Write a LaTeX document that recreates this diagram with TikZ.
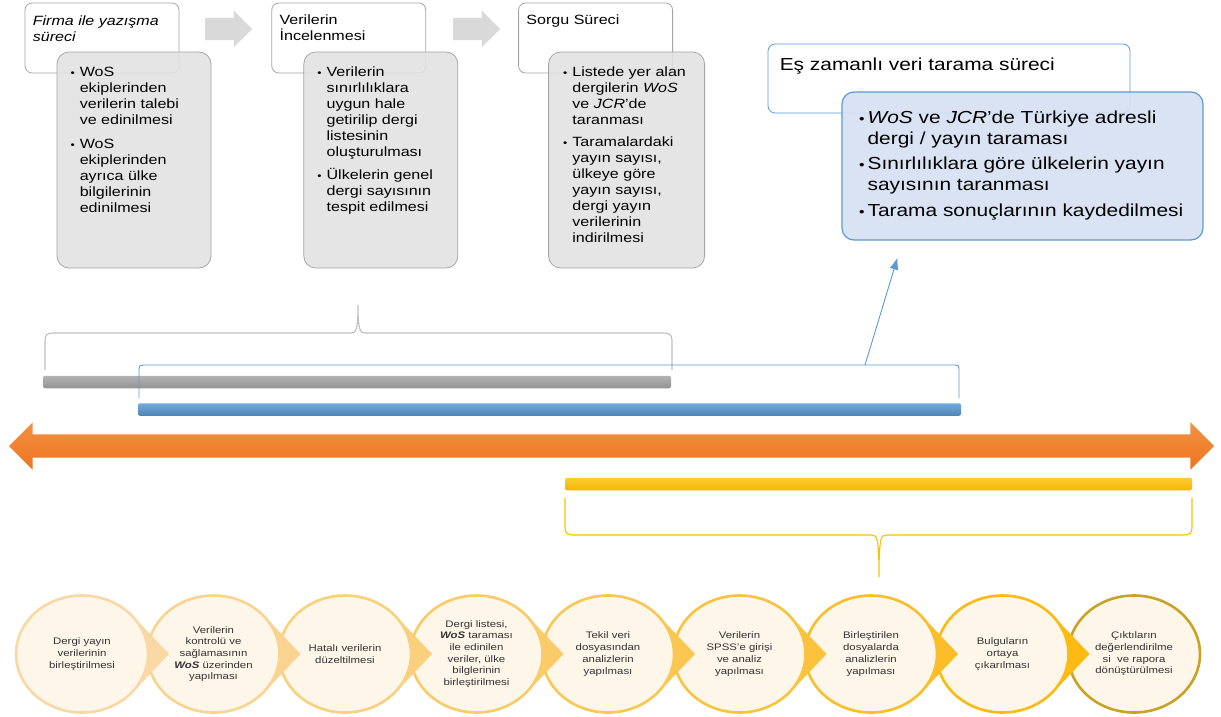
\documentclass[tikz,border=0pt]{standalone}
\usepackage{fontspec}
\setmainfont{Liberation Sans}[FakeStretch=1.2]
\usetikzlibrary{arrows.meta, shapes.geometric, shapes.arrows,
positioning}
\definecolor{framegrey}{HTML}{A6A6A6}
\definecolor{notegrey}{HTML}{E2E2E2}
\definecolor{chevgrey}{HTML}{D9D9D9}
\definecolor{bracegrey}{HTML}{BFBFBF}
\definecolor{scanblue}{HTML}{5B9BD5}
\definecolor{scanfill}{HTML}{D6E1F2}
\definecolor{timetop}{HTML}{F39143}
\definecolor{timebot}{HTML}{EE7420}
\definecolor{baryellow}{HTML}{FFC000}
\definecolor{ringlo}{HTML}{F9D8A6}
\definecolor{ringhi}{HTML}{FCBA12}
\definecolor{ringlast}{HTML}{C9A227}
\definecolor{ringfill}{HTML}{FEF7E9}
\newcommand{\blt}[1][5pt]{\llap{\scalebox{0.75}{\textbullet}\hspace{#1}}}
\tikzset{%
>={Latex[width=9pt,length=11pt]},
  % top row boxes
            titlebox/.style = {rectangle, draw=framegrey, fill=white, line width=0.8pt,
                            rounded corners=7pt, minimum width=154pt, minimum height=70pt},
            notebox/.style = {rectangle, draw=framegrey, fill=notegrey, fill opacity=0.88,
                            line width=0.8pt, rounded corners=12pt, minimum width=154pt,
                            minimum height=216pt},
            titletext/.style = {anchor=north west, inner sep=0pt, align=left,
                            font=\fontsize{13.4}{15.5}\selectfont},
            notetext/.style = {anchor=north west, inner sep=0pt, align=left,
                            font=\fontsize{13.4}{16}\selectfont},
            chevron/.style = {single arrow, fill=chevgrey, minimum height=47pt,
                            single arrow head extend=7pt, inner xsep=0pt, inner ysep=11pt},
  % timeline
            bar/.style = {rectangle, rounded corners=2pt, minimum height=12.5pt, inner sep=0pt},
            bracket/.style = {line width=1.1pt},
  % bottom row
            ring/.style = {ellipse, fill=ringfill, line width=2.6pt, minimum width=132pt,
                            minimum height=117pt, inner sep=0pt, align=center, text=black!80,
                            font=\fontsize{9.5}{11.7}\selectfont}
}
\begin{document}
\begin{tikzpicture}[x=1pt, y=-1pt]
\fill[white] (0,0) rectangle (1221,717);
\useasboundingbox (0,0) rectangle (1221,717);

% top row
\node[titlebox] (firmaT) at (102,38) {};
\node[titlebox, right=92pt of firmaT] (incT) {};
\node[titlebox, right=92pt of incT] (sorguT) {};
\node[notebox, anchor=north west] (firmaB) at ([xshift=32pt,yshift=-49pt]firmaT.north west) {};
\node[notebox, anchor=north west] (incB) at ([xshift=32pt,yshift=-49pt]incT.north west) {};
\node[notebox, anchor=north west, minimum width=156pt] (sorguB) at ([xshift=30pt,yshift=-49pt]sorguT.north west) {};
\node[chevron] (arr1) at (223,29) {};
\node[chevron] (arr2) at (471,29) {};

\node[titletext, font=\fontsize{13.4}{15.5}\selectfont\itshape] (firmaTx)
  at ([xshift=8pt,yshift=-13pt]firmaT.north west) {Firma ile yazışma\\süreci};
\node[titletext] (incTx) at ([xshift=8pt,yshift=-12pt]incT.north west) {Verilerin\\İncelenmesi};
\node[titletext] (sorguTx) at ([xshift=8pt,yshift=-12pt]sorguT.north west) {Sorgu Süreci};

\node[notetext] (firmaBx) at ([xshift=23pt,yshift=-15pt]firmaB.north west)
  {\blt WoS\\ ekiplerinden\\ verilerin talebi\\ ve edinilmesi\\[8pt]
   \blt WoS\\ ekiplerinden\\ ayrıca ülke\\ bilgilerinin\\ edinilmesi};
\node[notetext] (incBx) at ([xshift=23pt,yshift=-15pt]incB.north west)
  {\blt Verilerin\\ sınırlılıklara\\ uygun hale\\ getirilip dergi\\ listesinin\\ oluşturulması\\[7pt]
   \blt Ülkelerin genel\\ dergi sayısının\\ tespit edilmesi};
\node[notetext] (sorguBx) at ([xshift=24pt,yshift=-15pt]sorguB.north west)
  {\blt Listede yer alan\\ dergilerin \textit{WoS}\\ ve \textit{JCR}’de\\ taranması\\[6pt]
   \blt Taramalardaki\\ yayın sayısı,\\ ülkeye göre\\ yayın sayısı,\\ dergi yayın\\ verilerinin\\ indirilmesi};

% concurrent scanning
\node[titlebox, draw=scanblue, minimum width=362pt, minimum height=69pt] (scanT) at (949,78.5) {};
\node[notebox, draw=scanblue, fill=scanfill, fill opacity=0.92, minimum width=361pt,
  minimum height=148pt, line width=1.2pt] (scanB) at (1022.5,166) {};
\node[titletext, font=\fontsize{17.4}{20}\selectfont] (scanTx)
  at ([xshift=12pt,yshift=-14pt]scanT.north west) {Eş zamanlı veri tarama süreci};
\node[titletext, font=\fontsize{17.4}{21}\selectfont] (scanBx)
  at ([xshift=26pt,yshift=-19pt]scanB.north west)
  {\blt[3pt]\textit{WoS} ve \textit{JCR}’de Türkiye adresli\\ dergi / yayın taraması\\[4.5pt]
   \blt[3pt]Sınırlılıklara göre ülkelerin yayın\\ sayısının taranması\\[4.5pt]
   \blt[3pt]Tarama sonuçlarının kaydedilmesi};

% bars and braces
\draw[bracket, draw=bracegrey] (45,370) -- (45,341) .. controls (45,335) and (47,333) .. (53,333)
  -- (351,333) .. controls (356,333) and (358,330) .. (358,305)
  .. controls (358,330) and (360,333) .. (365,333) -- (664,333)
  .. controls (670,333) and (672,335) .. (672,341) -- (672,370);
\node[bar, minimum width=628pt, top color=black!30, bottom color=black!42] (greybar) at (357,382) {};
\coordinate (scanTip) at (865,365);
\draw[bracket, draw=scanblue, line width=0.9pt] (139,398) -- (139,369) .. controls (139,366) and (140,365) .. (143,365)
  -- (scanTip) -- (955,365) .. controls (958,365) and (959,366) .. (959,369) -- (959,398);
\draw[draw=scanblue, line width=0.9pt, ->, >={Latex[width=9pt,length=12pt]}]
  (scanTip) -- ([xshift=-125pt,yshift=-17pt]scanB.south);
\node[bar, minimum width=823pt, top color=scanblue!85!white, bottom color=scanblue!85!black] (bluebar) at (549.5,409.5) {};
\node[double arrow, top color=timetop, bottom color=timebot, minimum height=1205pt,
  double arrow head extend=12pt, inner xsep=0pt, inner ysep=11.5pt] (timeline) at (611.5,446) {};
\node[bar, minimum width=627pt, top color=baryellow!80!white, bottom color=baryellow!95!black] (yellowbar) at (878.5,484) {};
\draw[bracket, draw=baryellow] (565,498) -- (565,527) .. controls (565,533) and (567,535) .. (573,535)
  -- (872,535) .. controls (877,535) and (879,538) .. (879,577)
  .. controls (879,538) and (881,535) .. (886,535) -- (1184,535)
  .. controls (1190,535) and (1192,533) .. (1192,527) -- (1192,498);

% bottom row, drawn right to left
\node[ring, draw=ringlast] (c9) at (1134,654) {Çıktıların\\değerlendirilme\\si\ \ ve rapora\\dönüştürülmesi};
\foreach \i/\txt in {8/{Bulguların\\ortaya\\çıkarılması},
                     7/{Birleştirilen\\dosyalarda\\analizlerin\\yapılması},
                     6/{Verilerin\\SPSS’e girişi\\ve analiz\\yapılması},
                     5/{Tekil veri\\dosyasından\\analizlerin\\yapılması},
                     4/{Dergi listesi,\\\textbf{\textit{WoS}} taraması\\ile edinilen\\veriler, ülke\\bilglerinin\\birleştirilmesi},
                     3/{Hatalı verilerin\\düzeltilmesi},
                     2/{Verilerin\\kontrolü ve\\sağlamasının\\\textbf{\textit{WoS}} üzerinden\\yapılması},
                     1/{Dergi yayın\\verilerinin\\birleştirilmesi}}{
  \pgfmathsetmacro{\x}{82+131.5*(\i-1)}
  \pgfmathtruncatemacro{\p}{(\i-1)*100/7}
  \fill[ringhi!\p!ringlo] (\x+50,615) -- (\x+87,654) -- (\x+50,693) -- cycle;
  \node[ring, draw=ringhi!\p!ringlo] (c\i) at (\x,654) {\txt};
}
\end{tikzpicture}
\end{document}
